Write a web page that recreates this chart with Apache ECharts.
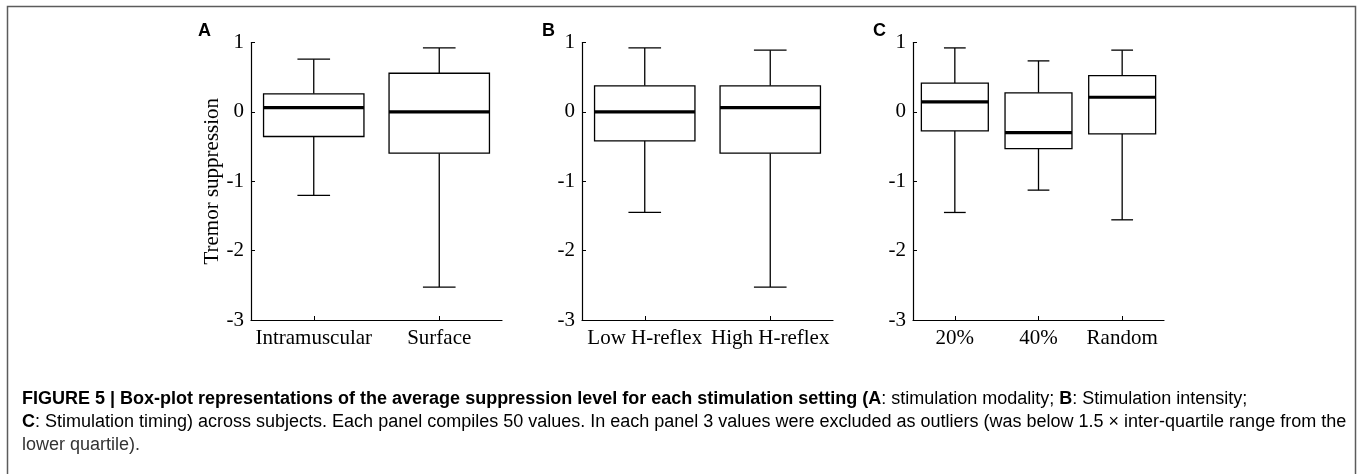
<!DOCTYPE html>
<html>
<head>
<meta charset="utf-8">
<script src="https://cdn.jsdelivr.net/npm/echarts@6/dist/echarts.min.js"></script>
<style>
html,body{margin:0;padding:0;background:#fff;}
#chart{width:1357px;height:474px;}
</style>
</head>
<body>
<div id="chart"></div>
<script>
// ---- data: [lower whisker, Q1, median, Q3, upper whisker] ----
const catsA = ['Intramuscular', 'Surface'];
const boxA = [
  [-1.205, -0.355, 0.06, 0.26, 0.76],
  [-2.526, -0.595, 0.0, 0.557, 0.922]
];
const catsB = ['Low H-reflex', 'High H-reflex'];
const boxB = [
  [-1.45, -0.418, 0.0, 0.375, 0.922],
  [-2.526, -0.595, 0.06, 0.375, 0.89]
];
const catsC = ['20%', '40%', 'Random'];
const boxC = [
  [-1.45, -0.274, 0.144, 0.413, 0.922],
  [-1.128, -0.529, -0.298, 0.274, 0.735],
  [-1.556, -0.317, 0.211, 0.523, 0.89]
];
const yTicks = [-3, -2, -1, 0, 1];
const panelLetters = ['A', 'B', 'C'];
const yName = 'Tremor suppression';

const serif = '"Liberation Serif", "Times New Roman", serif';
const sans = '"Liberation Sans", Arial, Helvetica, sans-serif';

const chart = echarts.init(document.getElementById('chart'));

const grids = [
  {left: 251, top: 42.5, width: 251, height: 277.5},
  {left: 582, top: 42.5, width: 251, height: 277.5},
  {left: 913, top: 42.5, width: 251, height: 277.5}
];
const cats = [catsA, catsB, catsC];
const boxes = [boxA, boxB, boxC];

function renderBox(params, api) {
  const i = api.value(0);
  const bw = api.size([1, 0])[0];
  const pLow = api.coord([i, api.value(1)]);
  const yQ1 = api.coord([i, api.value(2)])[1];
  const yMed = api.coord([i, api.value(3)])[1];
  const yQ3 = api.coord([i, api.value(4)])[1];
  const yHigh = api.coord([i, api.value(5)])[1];
  const x = pLow[0], yLow = pLow[1];
  const hb = bw * 0.4, hc = bw * 0.13;
  const ls = {stroke: '#000', lineWidth: 1.3};
  return {
    type: 'group',
    children: [
      {type: 'line', shape: {x1: x, y1: yQ3, x2: x, y2: yHigh}, style: ls},
      {type: 'line', shape: {x1: x, y1: yQ1, x2: x, y2: yLow}, style: ls},
      {type: 'line', shape: {x1: x - hc, y1: yHigh, x2: x + hc, y2: yHigh}, style: ls},
      {type: 'line', shape: {x1: x - hc, y1: yLow, x2: x + hc, y2: yLow}, style: ls},
      {type: 'rect', shape: {x: x - hb, y: yQ3, width: 2 * hb, height: yQ1 - yQ3},
        style: {fill: '#fff', stroke: '#000', lineWidth: 1.3}},
      {type: 'line', shape: {x1: x - hb, y1: yMed, x2: x + hb, y2: yMed},
        style: {stroke: '#000', lineWidth: 3.2}}
    ]
  };
}

const xAxis = cats.map((c, k) => ({
  type: 'category', gridIndex: k, data: c,
  axisLine: {show: true, onZero: false, lineStyle: {color: '#000', width: 1.2}},
  axisTick: {show: true, inside: true, length: 4, alignWithLabel: true, lineStyle: {color: '#000'}},
  axisLabel: {color: '#000', fontFamily: serif, fontSize: 21, margin: 8, interval: 0, hideOverlap: false},
  splitLine: {show: false}
}));

const yAxis = cats.map((c, k) => ({
  type: 'value', gridIndex: k, min: yTicks[0], max: yTicks[yTicks.length - 1], interval: 1,
  name: k === 0 ? yName : '',
  nameLocation: 'middle', nameGap: 28, nameRotate: 90,
  nameTextStyle: {color: '#000', fontFamily: serif, fontSize: 21},
  axisLine: {show: true, onZero: false, lineStyle: {color: '#000', width: 1.2}},
  axisTick: {show: true, inside: true, length: 4, lineStyle: {color: '#000'}},
  axisLabel: {color: '#000', fontFamily: serif, fontSize: 21, margin: 7},
  splitLine: {show: false}
}));

const series = boxes.map((b, k) => ({
  type: 'custom', xAxisIndex: k, yAxisIndex: k,
  renderItem: renderBox,
  encode: {x: 0, y: [1, 2, 3, 4, 5]},
  data: b.map((v, i) => [i].concat(v)),
  silent: true
}));

const letterX = [198, 542, 873];
const capFont = 18;
const graphic = [
  {type: 'rect', shape: {x: 7.5, y: 6.5, width: 1348, height: 520},
    style: {fill: 'none', stroke: '#5c5c5c', lineWidth: 1.5}, silent: true},
  ...panelLetters.map((L, k) => ({
    type: 'text', x: letterX[k], y: 31,
    style: {text: L, font: 'bold 18px ' + sans, fill: '#000', verticalAlign: 'middle', align: 'left'}
  })),
  {type: 'text', x: 22, y: 399,
    style: {
      text: '{b|FIGURE 5 | Box-plot representations of the average suppression level for each stimulation setting (A}{n|: stimulation modality; }{b|B}{n|: Stimulation intensity;}',
      verticalAlign: 'middle', align: 'left',
      rich: {
        b: {fontFamily: sans, fontSize: capFont, fontWeight: 'bold', color: '#222'},
        n: {fontFamily: sans, fontSize: capFont, color: '#333'}
      }
    }},
  {type: 'text', x: 22, y: 422,
    style: {
      text: '{b|C}{n|: Stimulation timing) across subjects. Each panel compiles 50 values. In each panel 3 values were excluded as outliers (was below 1.5 × inter-quartile range from the}',
      verticalAlign: 'middle', align: 'left',
      rich: {
        b: {fontFamily: sans, fontSize: capFont, fontWeight: 'bold', color: '#222'},
        n: {fontFamily: sans, fontSize: capFont, color: '#333'}
      }
    }},
  {type: 'text', x: 22, y: 445,
    style: {text: 'lower quartile).', font: capFont + 'px ' + sans, fill: '#333', verticalAlign: 'middle', align: 'left'}}
];

chart.setOption({
  animation: false,
  backgroundColor: '#fff',
  grid: grids,
  xAxis: xAxis,
  yAxis: yAxis,
  series: series,
  graphic: graphic
});
</script>
</body>
</html>
